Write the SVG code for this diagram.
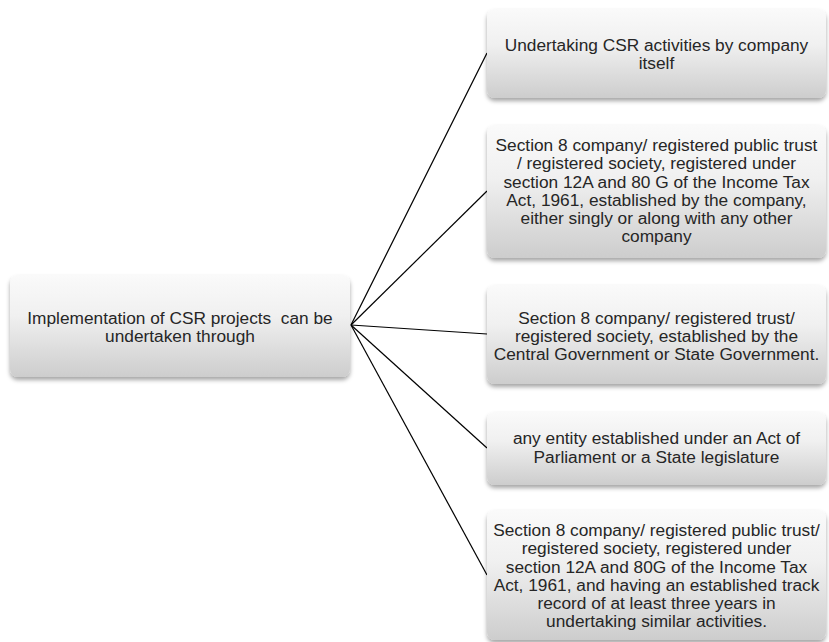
<svg xmlns="http://www.w3.org/2000/svg" width="829" height="642" viewBox="0 0 829 642">
<style>
.box{fill:url(#g);filter:url(#sh);}
text{font-family:"Liberation Sans",Arial,sans-serif;font-size:17.3px;fill:#262626;text-anchor:middle;white-space:pre;}
.c{stroke:#000;stroke-width:1.2;fill:none;}
</style>
<defs>
<linearGradient id="g" x1="0" y1="0" x2="0" y2="1">
<stop offset="0" stop-color="#fafafa"/>
<stop offset="0.4" stop-color="#f0f0f0"/>
<stop offset="1" stop-color="#cdcdcd"/>
</linearGradient>
<filter id="sh" x="-10%" y="-10%" width="120%" height="130%">
<feDropShadow dx="0" dy="3" stdDeviation="2" flood-color="#000" flood-opacity="0.35"/>
</filter>
</defs>
<g id="connectors">
<line class="c" x1="351" y1="325" x2="487" y2="53"/>
<line class="c" x1="351" y1="325" x2="487" y2="191"/>
<line class="c" x1="351" y1="325" x2="487" y2="334"/>
<line class="c" x1="351" y1="325" x2="487" y2="448"/>
<line class="c" x1="351" y1="325" x2="487" y2="575"/>
</g>
<g id="root">
<rect class="box" x="10" y="275" width="340" height="102" rx="8"/>
<text x="180" y="324" xml:space="preserve">Implementation of CSR projects  can be</text>
<text x="180" y="342">undertaken through</text>
</g>
<g id="n1">
<rect class="box" x="487" y="9" width="339" height="89" rx="8"/>
<text x="656.5" y="51">Undertaking CSR activities by company</text>
<text x="656.5" y="69">itself</text>
</g>
<g id="n2">
<rect class="box" x="487" y="125" width="339" height="133" rx="8"/>
<text x="656.5" y="151">Section 8 company/ registered public trust</text>
<text x="656.5" y="169">/ registered society, registered under</text>
<text x="656.5" y="187.5">section 12A and 80 G of the Income Tax</text>
<text x="656.5" y="206">Act, 1961, established by the company,</text>
<text x="656.5" y="224">either singly or along with any other</text>
<text x="656.5" y="242">company</text>
</g>
<g id="n3">
<rect class="box" x="487" y="285" width="339" height="99" rx="8"/>
<text x="656.5" y="324">Section 8 company/ registered trust/</text>
<text x="656.5" y="342">registered society, established by the</text>
<text x="656.5" y="360">Central Government or State Government.</text>
</g>
<g id="n4">
<rect class="box" x="487" y="412" width="339" height="73" rx="8"/>
<text x="656.5" y="444">any entity established under an Act of</text>
<text x="656.5" y="463">Parliament or a State legislature</text>
</g>
<g id="n5">
<rect class="box" x="487" y="510" width="339" height="130" rx="8"/>
<text x="656.5" y="536">Section 8 company/ registered public trust/</text>
<text x="656.5" y="554">registered society, registered under</text>
<text x="656.5" y="573">section 12A and 80G of the Income Tax</text>
<text x="656.5" y="591">Act, 1961, and having an established track</text>
<text x="656.5" y="609">record of at least three years in</text>
<text x="656.5" y="627">undertaking similar activities.</text>
</g>
</svg>
